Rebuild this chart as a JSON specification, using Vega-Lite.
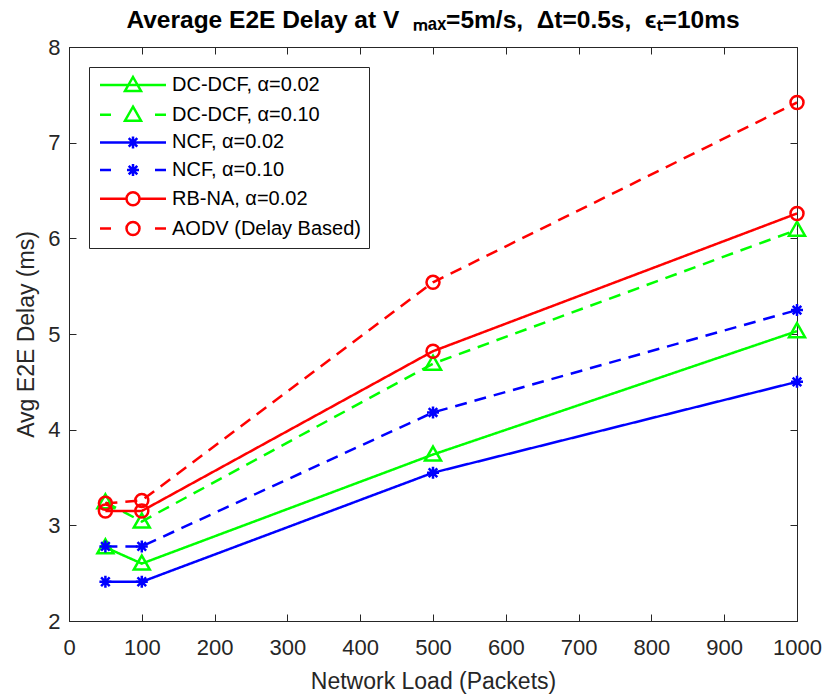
{
  "$schema": "https://vega.github.io/schema/vega-lite/v6.json",
  "width": 728,
  "height": 574,
  "autosize": "none",
  "padding": {"left": 69, "top": 47, "right": 27, "bottom": 74},
  "background": "white",
  "title": {
    "text": "Average E2E Delay at V\u00a0\u00a0ₘₐₓ=5m/s,\u00a0\u00a0Δt=0.5s,\u00a0\u00a0ϵₜ=10ms",
    "font": "Liberation Sans",
    "fontSize": 24.5,
    "fontWeight": "bold",
    "color": "#000000",
    "anchor": "middle",
    "frame": "group",
    "offset": 3
  },
  "data": {
    "values": [
      {"load": 50, "delay": 2.77, "series": "DC-DCF,α=0.02"},
      {"load": 100, "delay": 2.60, "series": "DC-DCF,α=0.02"},
      {"load": 500, "delay": 3.74, "series": "DC-DCF,α=0.02"},
      {"load": 1000, "delay": 5.03, "series": "DC-DCF,α=0.02"},
      {"load": 50, "delay": 3.24, "series": "DC-DCF,α=0.10"},
      {"load": 100, "delay": 3.04, "series": "DC-DCF,α=0.10"},
      {"load": 500, "delay": 4.69, "series": "DC-DCF,α=0.10"},
      {"load": 1000, "delay": 6.09, "series": "DC-DCF,α=0.10"},
      {"load": 50, "delay": 2.41, "series": "NCF,α=0.02"},
      {"load": 100, "delay": 2.41, "series": "NCF,α=0.02"},
      {"load": 500, "delay": 3.55, "series": "NCF,α=0.02"},
      {"load": 1000, "delay": 4.50, "series": "NCF,α=0.02"},
      {"load": 50, "delay": 2.78, "series": "NCF,α=0.10"},
      {"load": 100, "delay": 2.78, "series": "NCF,α=0.10"},
      {"load": 500, "delay": 4.18, "series": "NCF,α=0.10"},
      {"load": 1000, "delay": 5.25, "series": "NCF,α=0.10"},
      {"load": 50, "delay": 3.15, "series": "RB-NA,α=0.02"},
      {"load": 100, "delay": 3.15, "series": "RB-NA,α=0.02"},
      {"load": 500, "delay": 4.82, "series": "RB-NA,α=0.02"},
      {"load": 1000, "delay": 6.26, "series": "RB-NA,α=0.02"},
      {"load": 50, "delay": 3.23, "series": "AODV (Delay Based)"},
      {"load": 100, "delay": 3.26, "series": "AODV (Delay Based)"},
      {"load": 500, "delay": 5.54, "series": "AODV (Delay Based)"},
      {"load": 1000, "delay": 7.42, "series": "AODV (Delay Based)"}
    ]
  },
  "transform": [{"calculate": "datum.series", "as": "style"}],
  "resolve": {"axis": {"x": "independent", "y": "independent"}},
  "layer": [
    {
      "mark": {"type": "line", "strokeWidth": 2.5, "clip": true},
      "encoding": {
        "x": {
          "field": "load", "type": "quantitative",
          "scale": {"domain": [0, 1000], "nice": false, "zero": false},
          "axis": {"orient": "bottom", "values": [0,100,200,300,400,500,600,700,800,900,1000], "format": "d", "labelOverlap": false, "labelFlush": false, "title": "Network Load (Packets)", "labelPadding": 23, "titlePadding": 12}
        },
        "y": {
          "field": "delay", "type": "quantitative",
          "scale": {"domain": [2, 8], "nice": false, "zero": false},
          "axis": {"orient": "left", "values": [2,3,4,5,6,7,8], "format": "d", "labelOverlap": false, "labelFlush": false, "title": "Avg E2E Delay (ms)", "labelPadding": 16, "titlePadding": 9}
        },
        "color": {
          "field": "series", "type": "nominal",
          "scale": {
            "domain": ["DC-DCF,α=0.02", "DC-DCF,α=0.10", "NCF,α=0.02", "NCF,α=0.10", "RB-NA,α=0.02", "AODV (Delay Based)"],
            "range": ["#00ff00", "#00ff00", "#0000ff", "#0000ff", "#ff0000", "#ff0000"]
          },
          "legend": {
            "title": null,
            "orient": "top-left",
            "offset": 20,
            "padding": 8,
            "strokeColor": "#262626",
            "fillColor": "white",
            "cornerRadius": 0,
            "labelFont": "Liberation Sans",
            "labelFontSize": 20,
            "labelColor": "#000000",
            "labelLimit": 400,
            "labelExpr": "replace(datum.label, ',', ', ')",
            "symbolSize": 4,
            "symbolOffset": 26,
            "labelOffset": 29,
            "rowPadding": 5.7,
            "symbolStrokeWidth": 2.5,
            "symbolFillColor": "transparent",
            "symbolType": {"expr": "datum.value === 'DC-DCF,α=0.02' ? 'M-33,0L33,0M0,-8L8,6L-8,6Z' : datum.value === 'DC-DCF,α=0.10' ? 'M-33,0L-22,0M22,0L33,0M0,-8L8,6L-8,6Z' : datum.value === 'NCF,α=0.02' ? 'M-33,0L33,0M-6,0L6,0M0,-6L0,6M-4.3,-4.3L4.3,4.3M-4.3,4.3L4.3,-4.3' : datum.value === 'NCF,α=0.10' ? 'M-33,0L-22,0M22,0L33,0M-6,0L6,0M0,-6L0,6M-4.3,-4.3L4.3,4.3M-4.3,4.3L4.3,-4.3' : datum.value === 'RB-NA,α=0.02' ? 'M-33,0L-6.5,0M6.5,0L33,0M-6.5,0A6.5,6.5,0,1,1,6.5,0A6.5,6.5,0,1,1,-6.5,0Z' : 'M-33,0L-22,0M22,0L33,0M-6.5,0A6.5,6.5,0,1,1,6.5,0A6.5,6.5,0,1,1,-6.5,0Z'"}
          }
        },
        "strokeDash": {
          "field": "style", "type": "nominal",
          "scale": {
            "range": [[12, 8], [1, 0], [12, 8], [1, 0], [12, 8], [1, 0]]
          },
          "legend": null
        }
      }
    },
    {
      "mark": {"type": "point", "filled": false, "strokeWidth": 2.5, "size": 4, "opacity": 1},
      "encoding": {
        "x": {"field": "load", "type": "quantitative", "axis": null},
        "y": {"field": "delay", "type": "quantitative", "axis": null},
        "color": {"field": "series", "type": "nominal", "legend": null},
        "shape": {
          "field": "style", "type": "nominal",
          "scale": {
            "range": [
              "M-6.5,0A6.5,6.5,0,1,1,6.5,0A6.5,6.5,0,1,1,-6.5,0Z",
              "M0,-8L8,6L-8,6Z",
              "M0,-8L8,6L-8,6Z",
              "M-6,0L6,0M0,-6L0,6M-4.3,-4.3L4.3,4.3M-4.3,4.3L4.3,-4.3",
              "M-6,0L6,0M0,-6L0,6M-4.3,-4.3L4.3,4.3M-4.3,4.3L4.3,-4.3",
              "M-6.5,0A6.5,6.5,0,1,1,6.5,0A6.5,6.5,0,1,1,-6.5,0Z"
            ]
          },
          "legend": null
        }
      }
    },
    {
      "mark": {"type": "point", "opacity": 0},
      "encoding": {
        "x": {"field": "load", "type": "quantitative", "axis": {"orient": "top", "values": [0,100,200,300,400,500,600,700,800,900,1000], "labels": false, "title": null, "domain": false}},
        "y": {"field": "delay", "type": "quantitative", "axis": {"orient": "right", "values": [2,3,4,5,6,7,8], "labels": false, "title": null, "domain": false}}
      }
    }
  ],
  "config": {
    "view": {"stroke": "#262626", "strokeWidth": 1},
    "axis": {
      "domainColor": "#262626",
      "domainWidth": 1,
      "tickColor": "#262626",
      "tickWidth": 1,
      "tickSize": -7,
      "grid": false,
      "labelColor": "#262626",
      "titleColor": "#262626",
      "labelFont": "Liberation Sans",
      "titleFont": "Liberation Sans",
      "labelFontSize": 22,
      "titleFontSize": 23,
      "titleFontWeight": "normal"
    }
  }
}
